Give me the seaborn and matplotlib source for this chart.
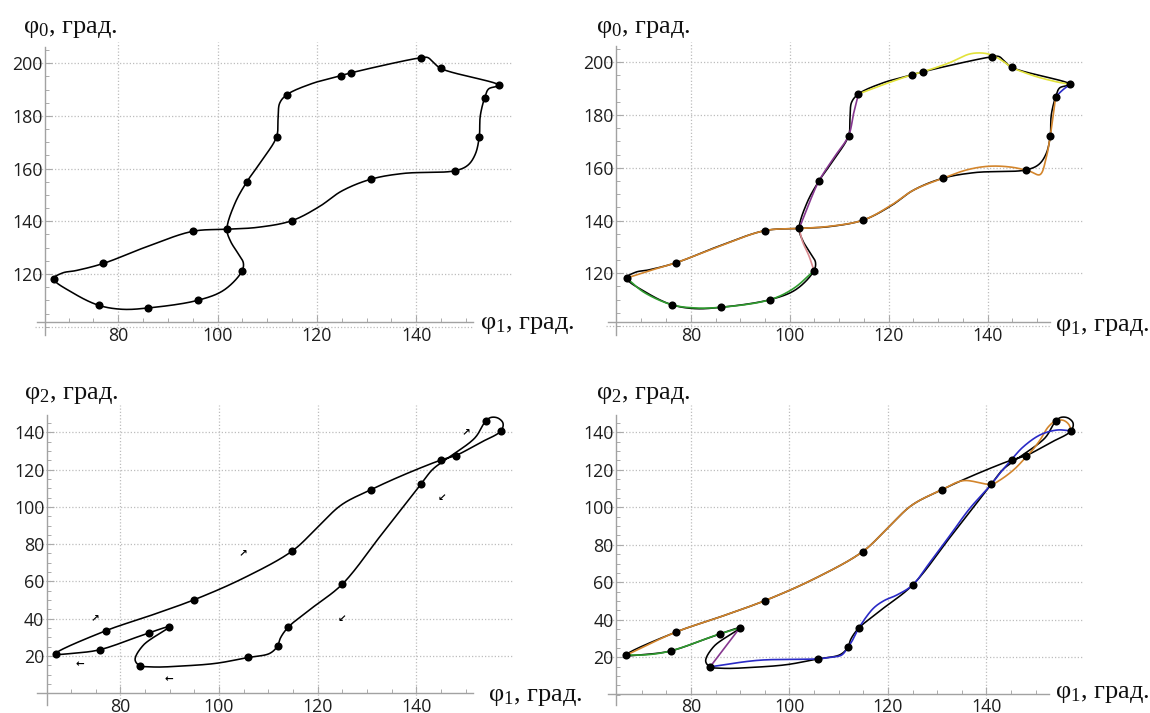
import numpy as np
import matplotlib
matplotlib.use("Agg")
import matplotlib.pyplot as plt
import seaborn as sns

sns.set_theme(style="white")
plt.rcParams["font.family"] = ["Open Sans", "DejaVu Sans"]
plt.rcParams["mathtext.fontset"] = "custom"

# ---------------------------------------------------------------- data
# Phase plane φ1–φ0: measured states (dots)
top_dot_phi1 = [67.0, 76.1, 86.0, 96.0, 104.9, 101.9, 95.0, 77.0, 114.9, 130.9, 147.8,
                152.7, 153.8, 156.7, 144.9, 140.9, 126.9, 124.8, 113.9, 111.9, 105.9]
top_dot_phi0 = [118.2, 108.1, 107.1, 110.0, 121.0, 137.0, 136.2, 124.0, 140.2, 156.0, 159.2,
                172.2, 187.0, 191.6, 198.1, 202.1, 196.4, 195.3, 188.0, 172.2, 155.0]

# closed trajectory through the states, in order of motion (φ1, φ0)
top_path = [(101.9, 137.0), (108.0, 137.7), (114.9, 140.2), (120.5, 145.6), (125.0, 151.5),
            (130.9, 156.0), (137.5, 158.2), (147.8, 159.2), (150.4, 161.3), (151.9, 165.5),
            (152.7, 172.2), (152.9, 180.0), (153.8, 187.0), (154.6, 190.3), (156.7, 191.6),
            (144.9, 198.1), (143.2, 200.9), (142.3, 202.2), (140.9, 202.1), (126.9, 196.4),
            (124.8, 195.3), (119.0, 192.3), (113.9, 188.0), (112.5, 184.8), (112.2, 179.5),
            (111.9, 172.2), (109.0, 163.3), (105.9, 155.0), (103.5, 146.8), (101.9, 137.0),
            (102.6, 132.5), (104.3, 127.3), (105.2, 124.2), (104.9, 121.0), (101.3, 113.9),
            (96.0, 110.0), (86.0, 107.1), (80.8, 106.6), (76.1, 108.1), (71.0, 112.7),
            (67.0, 118.2), (68.8, 120.4), (71.5, 121.3), (77.0, 124.0), (85.8, 130.4),
            (95.0, 136.2)]

# approximating segments, φ1–φ0
top_green = [(67.0, 118.2), (70.5, 112.8), (76.1, 108.1), (80.5, 106.9), (86.0, 107.1),
             (96.0, 110.0), (100.8, 114.3), (104.9, 121.0)]
top_pink = [(104.9, 121.0), (103.9, 126.5), (102.6, 132.0), (101.9, 137.0)]
top_purple = [(101.9, 137.0), (103.9, 146.5), (105.9, 155.0), (108.8, 163.5), (111.9, 172.2),
              (112.9, 180.5), (113.9, 188.0)]
top_yellow = [(113.9, 188.0), (119.0, 191.6), (124.8, 195.3), (126.9, 196.4), (132.0, 199.6),
              (136.5, 203.2), (139.5, 203.4), (141.5, 202.2), (143.3, 200.2), (144.9, 198.1),
              (149.5, 194.8), (153.5, 192.8), (156.7, 191.6)]
top_blue = [(153.8, 187.0), (155.4, 189.8), (156.7, 191.6)]
top_orange = [(67.0, 118.2), (72.0, 121.2), (77.0, 124.0), (85.8, 130.3), (95.0, 136.2),
              (101.9, 137.0), (108.0, 137.8), (114.9, 140.2), (120.5, 145.8), (125.0, 151.5),
              (130.9, 156.0), (136.0, 159.3), (140.4, 160.6), (145.0, 160.2), (148.5, 158.7),
              (150.6, 157.4), (151.9, 164.0), (152.7, 172.2), (153.3, 180.0), (153.8, 187.0)]

# Phase plane φ1–φ2: measured states (dots)
bot_dot_phi1 = [66.9, 77.0, 95.0, 114.9, 130.9, 145.1, 148.0, 154.1, 157.2, 141.0, 125.0,
                114.1, 111.9, 105.9, 83.9, 89.9, 85.9, 75.9]
bot_dot_phi2 = [21.2, 33.5, 50.2, 76.4, 109.3, 125.2, 127.5, 146.1, 140.8, 112.3, 58.5,
                35.6, 25.4, 19.2, 14.9, 35.6, 32.5, 23.4]

bot_path = [(66.9, 21.2), (77.0, 33.5), (86.0, 41.6), (95.0, 50.2), (105.0, 61.8),
            (114.9, 76.4), (119.8, 88.5), (124.8, 101.0), (130.9, 109.3), (137.4, 117.1),
            (145.1, 125.2), (148.0, 127.5), (152.8, 134.2), (157.2, 140.8), (157.6, 144.9),
            (156.6, 147.6), (155.2, 148.0), (154.1, 146.1), (151.9, 137.0), (146.3, 126.0),
            (143.3, 120.0), (141.0, 112.3), (133.0, 85.3), (125.0, 58.5), (118.8, 45.6),
            (114.1, 35.6), (112.5, 29.8), (111.9, 25.4), (110.3, 21.4), (105.9, 19.2),
            (99.5, 16.1), (93.0, 14.7), (86.8, 14.1), (83.9, 14.9), (83.0, 18.0),
            (84.7, 25.9), (89.9, 35.6), (85.9, 32.5), (75.9, 23.4), (71.0, 21.6)]

bot_orange = [(66.9, 21.2), (77.0, 33.5), (86.0, 41.6), (95.0, 50.2), (105.0, 61.8),
              (114.9, 76.4), (119.8, 88.5), (124.8, 101.0), (130.9, 109.3), (135.3, 114.2),
              (141.0, 112.3), (142.8, 114.6), (145.5, 119.9), (147.5, 125.2), (149.2, 130.0),
              (150.9, 135.9), (152.6, 143.0), (154.1, 146.1), (155.6, 146.4), (156.7, 144.3),
              (157.2, 140.8)]
bot_blue = [(157.2, 140.8), (154.3, 141.2), (150.9, 138.6), (147.5, 132.3), (145.1, 125.5),
            (143.0, 119.0), (141.0, 112.3), (136.5, 99.0), (132.6, 85.0), (128.5, 70.5),
            (125.0, 58.5), (121.8, 53.2), (119.2, 50.2), (117.0, 46.0), (114.1, 35.6),
            (112.9, 29.5), (111.9, 25.4), (110.6, 21.2), (108.3, 20.0), (105.9, 19.2),
            (93.7, 18.4), (83.9, 14.9)]
bot_purple = [(83.9, 14.9), (89.9, 35.6)]
bot_green = [(89.9, 35.6), (85.9, 32.5), (75.9, 23.4), (71.2, 21.4), (66.9, 21.2)]

# direction-of-motion markers on the φ1–φ2 trajectory
arrow_phi1 = [74.9, 104.8, 150.0, 145.2, 125.0, 89.9, 71.8]
arrow_phi2 = [40.4, 75.1, 140.0, 105.0, 39.9, 7.8, 15.5]
arrow_glyph = ["↗", "↗", "↗", "↙", "↙", "←", "←"]

x_major = [80, 100, 120, 140]
top_y_major = [120, 140, 160, 180, 200]
bot_y_major = [20, 40, 60, 80, 100, 120, 140]

COL = dict(orange="#d3852c", yellow="#e2e23a", purple="#86378f", pink="#d98a8f",
           green="#2f9c2f", blue="#2a2ac6")

# ---------------------------------------------------------------- helpers
W, H = 1150, 713
fig = plt.figure(figsize=(W / 100, H / 100), dpi=100)


def spline(pts, sx, sy, closed=False, n=24):
    """Centripetal Catmull-Rom curve through the given points (screen-scaled)."""
    P = np.asarray(pts, float) * [sx, sy]
    if closed:
        P = np.vstack([P[-1], P, P[0], P[1]])
    else:
        P = np.vstack([2 * P[0] - P[1], P, 2 * P[-1] - P[-2]])
    out = []
    for i in range(len(P) - 3):
        p0, p1, p2, p3 = P[i:i + 4]
        t0 = 0.0
        t1 = t0 + np.linalg.norm(p1 - p0) ** 0.5
        t2 = t1 + np.linalg.norm(p2 - p1) ** 0.5
        t3 = t2 + np.linalg.norm(p3 - p2) ** 0.5
        t = np.linspace(t1, t2, n)[:, None]
        A1 = (t1 - t) / (t1 - t0) * p0 + (t - t0) / (t1 - t0) * p1
        A2 = (t2 - t) / (t2 - t1) * p1 + (t - t1) / (t2 - t1) * p2
        A3 = (t3 - t) / (t3 - t2) * p2 + (t - t2) / (t3 - t2) * p3
        B1 = (t2 - t) / (t2 - t0) * A1 + (t - t0) / (t2 - t0) * A2
        B2 = (t3 - t) / (t3 - t1) * A2 + (t - t1) / (t3 - t1) * A3
        C = (t2 - t) / (t2 - t1) * B1 + (t - t1) / (t2 - t1) * B2
        out.append(C if i == 0 else C[1:])
    out = np.vstack(out) / [sx, sy]
    return out[:, 0], out[:, 1]


def make_axes(xref, yref, xlim, ylim):
    xv0, px0, xv1, px1 = xref
    kx = (px1 - px0) / (xv1 - xv0)
    yv0, py0, yv1, py1 = yref
    ky = (py1 - py0) / (yv1 - yv0)
    lpx = px0 + (xlim[0] - xv0) * kx
    rpx = px0 + (xlim[1] - xv0) * kx
    tpx = py0 + (ylim[1] - yv0) * ky
    bpx = py0 + (ylim[0] - yv0) * ky
    ax = fig.add_axes([lpx / W, 1 - bpx / H, (rpx - lpx) / W, (bpx - tpx) / H])
    ax.set_xlim(*xlim)
    ax.set_ylim(*ylim)
    ax.patch.set_alpha(0)
    return ax, kx, -ky


def style_axes(ax, xlim, ylim, yaxis_at, xaxis_at, xspan, yspan, yticks, ygrid, ygrid_short,
               yminor):
    grid_kw = dict(color="#bdbdbd", lw=0.9, linestyles=(0, (1, 1.6)), zorder=0)
    ax.vlines(x_major, ylim[0], ylim[1], **grid_kw)
    ax.hlines(ygrid, xlim[0], xlim[1], **grid_kw)
    if ygrid_short is not None:
        ax.hlines([ygrid_short], xlim[0], xspan[1], **grid_kw)
    for s in ("top", "right"):
        ax.spines[s].set_visible(False)
    ax.spines["left"].set_position(("data", yaxis_at))
    ax.spines["bottom"].set_position(("data", xaxis_at))
    ax.spines["left"].set_bounds(*yspan)
    ax.spines["bottom"].set_bounds(*xspan)
    for s in ("left", "bottom"):
        ax.spines[s].set_color("#a2a2a2")
        ax.spines[s].set_linewidth(1.0)
        ax.spines[s].set_zorder(1)
    ax.set_xticks(x_major)
    ax.set_yticks(yticks)
    ax.set_xticks(np.arange(70, 155, 5), minor=True)
    ax.set_yticks(yminor, minor=True)
    ax.tick_params(which="both", direction="in", bottom=True, left=True, top=False,
                   right=False, color="#ababab", labelcolor="#1e1e1e", labelsize=12.8)
    ax.tick_params(which="major", length=5, width=0.8)
    ax.tick_params(which="minor", length=3, width=0.7)
    ax.tick_params(axis="x", pad=3.2)
    ax.tick_params(axis="y", pad=1.6)
    ax.set_xlabel("")
    ax.set_ylabel("")


def draw(ax, pts, color, sx, sy, closed=False, lw=1.1, z=2):
    xs, ys = spline(pts, sx, sy, closed=closed)
    sns.lineplot(x=xs, y=ys, sort=False, estimator=None, color=color, lw=lw, ax=ax,
                 legend=False, zorder=z)


def dots(ax, xs, ys):
    sns.scatterplot(x=xs, y=ys, s=34, color="black", edgecolor="black", linewidth=0,
                    ax=ax, zorder=6, legend=False)


def axis_label(px, py, sub):
    fig.text(px / W, 1 - py / H, r"$\mathregular{φ_%s}$, град." % sub,
             fontfamily="Liberation Serif", fontsize=19, color="#111111",
             ha="left", va="baseline")


top_minor = np.arange(100, 210, 5)
bot_minor = np.arange(0, 150, 5)

# ---------------------------------------------------------------- top-left
ax, kx, ky = make_axes((80, 118.2, 140, 416.2), (200, 63.3, 120, 274.0),
                       (63.25, 159.5), (96.8, 208.2))
style_axes(ax, (63.25, 159.5), (96.8, 208.2), 65.2, 101.66, (63.6, 151.4), (96.8, 206.3),
           top_y_major, top_y_major, 100, top_minor)
draw(ax, top_path, "black", kx, ky, closed=True, lw=1.15)
dots(ax, top_dot_phi1, top_dot_phi0)
axis_label(23, 33.5, "0")
axis_label(480, 329, "1")

# ---------------------------------------------------------------- top-right
ax, kx, ky = make_axes((80, 690.9, 140, 987.5), (200, 62.3, 120, 273.3),
                       (62.8, 159.3), (96.6, 207.8))
style_axes(ax, (62.8, 159.3), (96.6, 207.8), 64.85, 101.35, (63.2, 152.7), (96.6, 206.0),
           top_y_major, top_y_major, 100, top_minor)
draw(ax, top_path, "black", kx, ky, closed=True, lw=1.15, z=2)
for name, pts in [("green", top_green), ("pink", top_pink), ("purple", top_purple),
                  ("yellow", top_yellow), ("blue", top_blue), ("orange", top_orange)]:
    draw(ax, pts, COL[name], kx, ky, lw=1.2, z=3)
dots(ax, top_dot_phi1, top_dot_phi0)
axis_label(596, 33.5, "0")
axis_label(1055, 331, "1")

# ---------------------------------------------------------------- bottom-left
ax, kx, ky = make_axes((80, 120.3, 140, 416.2), (140, 432.3, 20, 656.0),
                       (62.9, 159.6), (-6.4, 154.7))
style_axes(ax, (62.9, 159.6), (-6.4, 154.7), 65.05, 0.0, (63.05, 151.5), (-6.4, 149.3),
           bot_y_major, bot_y_major, None, bot_minor)
draw(ax, bot_path, "black", kx, ky, closed=True, lw=1.15)
dots(ax, bot_dot_phi1, bot_dot_phi2)
for x, y, g in zip(arrow_phi1, arrow_phi2, arrow_glyph):
    ax.text(x, y, g, fontfamily="DejaVu Sans", fontsize=7.5, fontweight="bold",
            ha="center", va="center", color="black", zorder=7)
axis_label(24, 398.5, "2")
axis_label(488, 701, "1")

# ---------------------------------------------------------------- bottom-right
ax, kx, ky = make_axes((80, 690.9, 140, 986.4), (140, 432.3, 20, 657.3),
                       (62.8, 159.6), (-5.4, 154.6))
style_axes(ax, (62.8, 159.6), (-5.4, 154.6), 64.8, 0.5, (63.2, 152.7), (-5.4, 149.3),
           bot_y_major, bot_y_major, None, bot_minor)
draw(ax, bot_path, "black", kx, ky, closed=True, lw=1.15, z=2)
for name, pts in [("orange", bot_orange), ("blue", bot_blue), ("purple", bot_purple),
                  ("green", bot_green)]:
    draw(ax, pts, COL[name], kx, ky, lw=1.2, z=3)
dots(ax, bot_dot_phi1, bot_dot_phi2)
axis_label(596, 398.5, "2")
axis_label(1055, 698, "1")

fig.savefig("out.png", dpi=100)
